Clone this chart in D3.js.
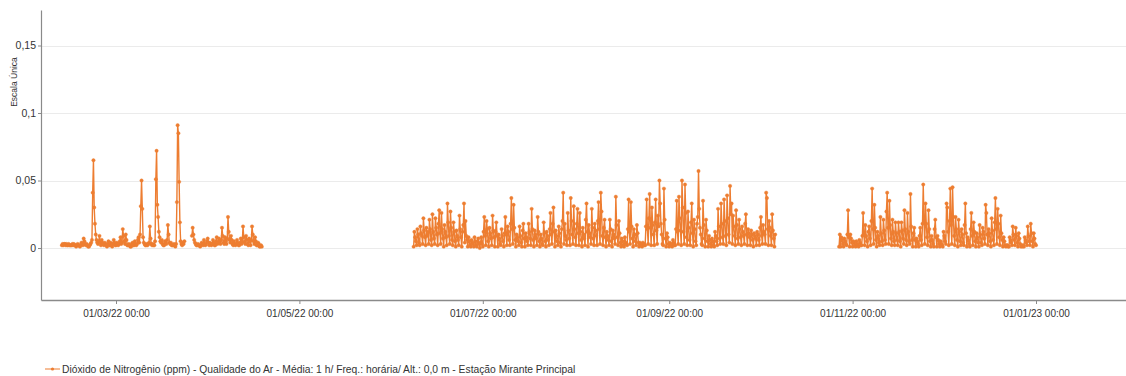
<!DOCTYPE html>
<html>
<head>
<meta charset="utf-8">
<script src="https://cdn.jsdelivr.net/npm/d3@7"></script>
<style>
  body { margin: 0; background: #fff; }
  svg { display: block; font-family: "Liberation Sans", Arial, Helvetica, sans-serif; }
</style>
</head>
<body>
<svg id="chart" width="1126" height="376"></svg>
<script>
// NO2 readings in ppb (ppm x 1000), one reading every 6 hours (00h, 06h, 12h, 18h).
// null = no reading (station offline).
const seriesName = "Dióxido de Nitrogênio (ppm) - Qualidade do Ar - Média: 1 h/ Freq.: horária/ Alt.: 0,0 m - Estação Mirante Principal";
const axisTitle = "Escala Única";

// Run 1 starts 11/02/22
const run1Start = "2022-02-11T00:00:00Z";
const run1 = [
  2,3,2,3, 3,2,3,2, 2,3,2,2, 2,2,3,2, 3,2,2,1, 2,3,2,2, 1,2,4,3,
  2,7,5,3, 2,3,2,1, 1,2,3,4, 6,41,65,30, 18,10,6,4, 3,5,9,4, 2,6,4,3,
  2,4,3,2, 1,3,5,2, 2,4,2,1, 3,6,4,2, 2,4,3,2, 3,5,8,3, 4,14,9,5,
  3,10,6,2, 2,3,2,1, 1,3,4,2, 2,5,3,2, 3,6,8,4, 10,31,50,29, 8,4,3,2,
  2,3,2,3, 4,16,7,3, 2,3,2,2, 5,51,72,32, 23,12,8,5, 4,6,3,2, 2,5,4,3,
  6,17,10,4, 3,4,2,2, 2,3,2,1, 3,34,91,85, 49,19,5,3, 2,4,3,5,
  null,null,null,null, null,null,null,null, null,9,15,10,
  6,4,3,2, 2,3,2,2, 1,2,4,3, 2,6,3,2, 3,5,7,4, 2,4,3,2, 3,6,4,2,
  2,5,8,3, 4,7,5,3, 6,15,9,4, 3,8,5,3, 7,23,12,6, 4,9,6,3, 2,5,3,2,
  3,6,4,2, 2,4,7,3, 5,16,8,4, 3,9,6,3, 2,7,5,2, 6,16,10,5, 3,8,5,2,
  2,4,3,1, 1,2,1,null
];

// Run 2 starts 08/06/22
const run2Start = "2022-06-08T00:00:00Z";
const run2 = [
  1,12,8,5, 2,14,10,4, 2,16,11,9, 3,22,13,8, 2,15,9,12, 3,21,14,6, 2,25,12,7,
  3,22,15,10, 2,18,28,11, 3,26,14,7, 1,17,12,8, 2,33,19,9, 3,27,15,6, 2,19,12,5,
  1,13,9,6, 2,24,14,8, 1,12,17,33, 4,20,9,6, 1,8,5,2, 1,6,4,3, 1,8,5,2,
  1,5,7,3, 0,4,8,3, 1,12,23,9, 2,20,14,5, 1,15,11,7, 2,24,13,8, 1,12,19,9,
  1,10,7,3, 2,14,9,5, 1,11,23,10, 2,16,12,6, 2,18,37,14, 3,32,15,6, 1,10,8,5,
  2,16,9,4, 1,13,18,7, 1,11,8,5, 2,18,12,7, 2,29,14,6, 1,13,10,7, 2,23,12,5,
  1,10,7,3, 2,19,11,5, 1,12,9,6, 2,14,26,10, 3,18,30,12, 1,13,9,5, 2,16,11,4,
  1,14,20,41, 3,18,9,6, 2,26,13,7, 2,37,20,10, 3,31,14,8, 2,18,29,11, 2,26,12,6,
  1,15,10,7, 2,21,33,12, 1,17,11,8, 3,29,15,7, 2,18,13,9, 2,20,34,14, 3,41,27,9,
  2,15,21,8, 1,12,9,6, 2,21,14,5, 1,13,10,7, 3,38,17,8, 2,20,11,4, 1,7,5,2,
  1,8,4,3, 2,14,36,12, 3,34,16,7, 1,14,10,5, 2,17,11,4, 1,4,3,2, 1,4,3,2,
  2,16,36,14, 3,22,40,15, 2,30,17,10, 2,19,36,13, 3,24,16,50, 33,18,10,3, 2,44,21,7,
  1,11,8,3, 1,4,3,2, 1,6,4,2, 2,14,35,12, 3,38,22,13, 2,50,30,12, 3,47,26,8,
  2,27,15,6, 2,19,33,11, 1,21,14,5, 2,18,23,57, 29,15,10,3, 2,35,17,7, 1,21,13,5,
  1,9,6,3, 1,7,5,2, 1,12,9,5, 2,29,16,7, 3,33,18,8, 3,36,20,9, 2,39,22,10,
  4,46,25,33, 3,24,16,9, 2,28,17,7, 3,21,14,8, 2,16,12,9, 3,18,25,10, 2,14,11,8,
  2,13,10,6, 1,11,9,7, 2,12,10,6, 2,15,23,9, 3,17,12,10, 3,41,37,14, 2,20,15,9,
  2,25,13,7, 1,10,null,null
];

// Run 3 starts 27/10/22
const run3Start = "2022-10-27T00:00:00Z";
const run3 = [
  null,null,1,10, 1,8,6,3, 1,7,5,3, 2,10,28,8, 1,10,7,4, 1,5,4,2, 1,5,3,2,
  1,6,4,2, 2,9,26,10, 2,17,9,5, 1,12,16,7, 2,20,44,14, 3,32,15,6, 1,12,9,4,
  2,23,11,5, 2,21,13,6, 3,27,41,15, 3,35,17,7, 2,21,12,5, 2,19,11,6, 2,19,12,5,
  1,19,13,7, 3,28,14,6, 2,26,12,5, 3,40,16,6, 1,11,15,6, 1,7,5,3, 1,9,15,6,
  2,18,47,20, 3,33,18,8, 2,28,14,5, 1,9,6,3, 1,14,21,8, 1,9,6,3, 1,5,3,2,
  1,12,9,5, 3,33,30,12, 2,20,44,17, 3,45,23,9, 2,23,14,6, 1,21,12,5, 2,14,10,4,
  2,17,33,11, 1,8,6,3, 1,14,26,9, 2,19,12,5, 1,11,8,4, 1,17,10,4, 2,15,12,7,
  3,32,26,10, 2,14,11,5, 1,22,13,6, 2,19,37,14, 3,29,18,8, 2,24,11,6, 1,8,5,2,
  1,2,2,1, 1,8,6,4, 2,16,10,6, 2,15,9,4, 1,11,7,3, 1,2,1,2, 1,8,6,4,
  2,16,9,5, 2,18,11,5, 1,11,7,3, 2,null,null,null
];

const yTicks = [0, 0.05, 0.1, 0.15];
const xTickDates = ["2022-03-01T00:00:00Z", "2022-05-01T00:00:00Z", "2022-07-01T00:00:00Z",
                    "2022-09-01T00:00:00Z", "2022-11-01T00:00:00Z", "2023-01-01T00:00:00Z"];

const COLOR = "#ED7D31";
const STEP_MS = 6 * 3600 * 1000;

const svg = d3.select("#chart");
const plot = { left: 41, right: 1126, top: 10, bottom: 300 };

// time scale anchored on the tick dates, then widened to the plot edges
const anchor = d3.scaleUtc()
  .domain([new Date(xTickDates[0]), new Date(xTickDates[xTickDates.length - 1])])
  .range([116, 1036]);
const x = d3.scaleUtc()
  .domain([anchor.invert(plot.left), anchor.invert(plot.right)])
  .range([plot.left, plot.right]);

const y = d3.scaleLinear().domain([-0.0385, 0.1763]).range([plot.bottom, plot.top]);

// gridlines
svg.append("g").selectAll("line").data(yTicks).join("line")
  .attr("x1", plot.left).attr("x2", plot.right)
  .attr("y1", d => Math.round(y(d)) + 0.5).attr("y2", d => Math.round(y(d)) + 0.5)
  .attr("stroke", "#ebebeb").attr("stroke-width", 1);

// y axis
const yAxis = svg.append("g").attr("transform", `translate(${plot.left},0)`)
  .call(d3.axisLeft(y).tickValues(yTicks).tickSize(3).tickSizeOuter(0).tickPadding(2)
    .tickFormat(d => String(d).replace(".", ",")));
yAxis.select(".domain").attr("stroke", "#8a8a8a").attr("stroke-width", 1.2);
yAxis.selectAll(".tick line").attr("stroke", "#8a8a8a");
yAxis.selectAll(".tick text").attr("fill", "#333").attr("font-size", 10.5)
  .attr("font-family", "Liberation Sans, Arial, sans-serif");

// x axis
const xAxis = svg.append("g").attr("transform", `translate(0,${plot.bottom})`)
  .call(d3.axisBottom(x).tickValues(xTickDates.map(d => new Date(d)))
    .tickSize(4).tickSizeOuter(0).tickPadding(6)
    .tickFormat(d3.utcFormat("%d/%m/%y %H:%M")));
xAxis.select(".domain").attr("stroke", "#8a8a8a").attr("stroke-width", 1.5);
xAxis.selectAll(".tick line").attr("stroke", "#8a8a8a");
xAxis.selectAll(".tick text").attr("fill", "#333").attr("font-size", 10)
  .attr("font-family", "Liberation Sans, Arial, sans-serif");

// y axis title
svg.append("text")
  .attr("transform", "translate(17,82) rotate(-90)")
  .attr("text-anchor", "middle")
  .attr("font-size", 8.5).attr("fill", "#333")
  .text(axisTitle);

// series
function toPoints(start, values) {
  const t0 = new Date(start).getTime();
  return values.map((v, i) => ({ t: new Date(t0 + i * STEP_MS), v: v == null ? null : v / 1000 }));
}
const runs = [toPoints(run1Start, run1), toPoints(run2Start, run2), toPoints(run3Start, run3)];

const line = d3.line()
  .defined(d => d.v != null)
  .x(d => x(d.t)).y(d => y(d.v));

const series = svg.append("g");
runs.forEach(pts => {
  series.append("path").datum(pts)
    .attr("d", line)
    .attr("fill", "none")
    .attr("stroke", COLOR).attr("stroke-width", 1.4)
    .attr("stroke-linejoin", "round");
});
runs.forEach(pts => {
  series.append("g").selectAll("circle").data(pts.filter(d => d.v != null)).join("circle")
    .attr("cx", d => x(d.t)).attr("cy", d => y(d.v)).attr("r", 1.7)
    .attr("fill", COLOR)
    .attr("stroke", COLOR).attr("stroke-width", 0.4);
});

// legend
const lg = svg.append("g").attr("transform", "translate(45,369)");
lg.append("line").attr("x1", 0).attr("x2", 15).attr("y1", 0).attr("y2", 0)
  .attr("stroke", COLOR).attr("stroke-width", 1);
lg.append("circle").attr("cx", 7.5).attr("cy", 0).attr("r", 1.6).attr("fill", COLOR);
lg.append("text").attr("x", 17).attr("y", 3.5)
  .attr("font-size", 10.3).attr("fill", "#333")
  .text(seriesName);
</script>
</body>
</html>
